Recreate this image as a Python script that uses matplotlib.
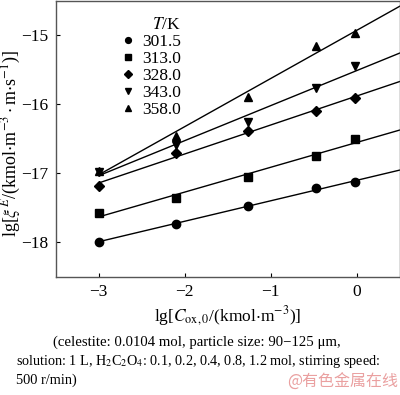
import numpy as np
import matplotlib
matplotlib.use("Agg")
import matplotlib.pyplot as plt

plt.rcParams['font.family'] = ['Liberation Serif', 'DejaVu Serif']
plt.rcParams['mathtext.fontset'] = 'stix'

# ---- data ----
lg_c = [-3.0, -2.1, -1.27, -0.48, -0.02]
temps = ["301.5", "313.0", "328.0", "343.0", "358.0"]
lg_rate_301 = [-17.99, -17.73, -17.48, -17.21, -17.13]
lg_rate_313 = [-17.58, -17.35, -17.05, -16.75, -16.50]
lg_rate_328 = [-17.19, -16.70, -16.39, -16.09, -15.91]
lg_rate_343 = [-16.98, -16.59, -16.26, -15.76, -15.45]
lg_rate_358 = [-16.96, -16.46, -15.89, -15.15, -14.97]
series = [lg_rate_301, lg_rate_313, lg_rate_328, lg_rate_343, lg_rate_358]
markers = ["o", "s", "D", "v", "^"]
msizes = [6, 5.5, 5.5, 6, 6]

fig = plt.figure(figsize=(4.0, 3.95), dpi=100)
ax = fig.add_axes([0.139, 0.299, 0.861, 0.699])

x = np.array(lg_c)
for ys, m, ms, t in zip(series, markers, msizes, temps):
    k, b = np.polyfit(x, ys, 1)
    xf = np.array([x[0], 0.5])
    ax.plot(xf, k * xf + b, color="black", lw=1.0)
    ax.plot(x, ys, m, color="black", ms=ms, label=t, ls="none")

ax.set_xlim(-3.5, 0.5)
ax.set_ylim(-18.5, -14.5)
ax.set_xticks([-3, -2, -1, 0])
ax.set_yticks([-18, -17, -16, -15])
ax.tick_params(direction="in", length=3, width=0.8, labelsize=12.5, colors="black", pad=5)
for s in ax.spines.values():
    s.set_color("#555555")
    s.set_linewidth(1.0)

ax.set_xlabel(r"lg[$C_{\rm ox,0}$/(kmol$\cdot$m$^{-3}$)]", fontsize=12.5, labelpad=3)
ax.set_ylabel(r"lg[$\xi^{E}$/(kmol$\cdot$m$^{-3}\cdot$m$\cdot$s$^{-1}$)]", fontsize=13)
ax.yaxis.set_label_coords(-0.095, 0.482)

leg = ax.legend(title=r"$T$/K", loc="upper left", bbox_to_anchor=(0.16, 0.985),
                frameon=False, fontsize=12.5, title_fontsize=12.5,
                handlelength=0.6, handletextpad=0.5, labelspacing=0.05,
                borderpad=0.2, markerscale=0.7, alignment="right")

fig.text(0.133, 1 - 342 / 395, "(celestite: 0.0104 mol, particle size: 90\u2212125 \u03bcm,",
         fontsize=10.6, va="center")
fig.text(0.04, 1 - 362 / 395, r"solution: 1 L, H$_2$C$_2$O$_4$: 0.1, 0.2, 0.4, 0.8, 1.2 mol, stirring speed:",
         fontsize=10.2, va="center")
fig.text(0.04, 1 - 380 / 395, "500 r/min)", fontsize=10.4, va="center")
fig.text(0.995, 1 - 382 / 395, "@有色金属在线", fontsize=11.5, color="#eaa0a0", ha="right", va="center",
         family=["Noto Sans CJK SC", "DejaVu Sans"])

fig.savefig("out.png", dpi=100)
